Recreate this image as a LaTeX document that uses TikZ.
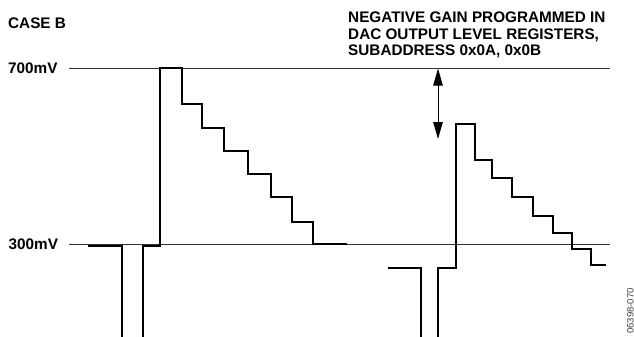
\documentclass[tikz,border=0pt]{standalone}
\usepackage{fontspec}
\setmainfont{Liberation Sans}
\usepackage{tikz}
\usetikzlibrary{arrows.meta}

\begin{document}
\begin{tikzpicture}[x=1pt,y=-1pt,
		lbl/.style={font=\bfseries\fontsize{15.3}{16.3}\selectfont,inner sep=0pt,anchor=base west},
		level/.style={line width=0.9pt,black!80},
		wave/.style={line width=2pt,line join=miter},
		gain/.style={line width=1pt,{Triangle[length=17pt,width=9.5pt]}-{Triangle[length=17pt,width=9.5pt]}}]
	\useasboundingbox (0,0) rectangle (634,337);
	
	% labels
	\node[lbl] (caseb) at (8,29) {CASE B};
	\node[lbl] (lab700) at (8,74) {700mV};
	\node[lbl] (lab300) at (8.5,249.5) {300mV};
	\node[lbl,align=left,anchor=north west] (note) at (348,12)
	{NEGATIVE GAIN PROGRAMMED IN\\DAC OUTPUT LEVEL REGISTERS,\\SUBADDRESS 0x0A, 0x0B};
	\node[font=\fontsize{9.5}{9.5}\selectfont,text=black!75,inner sep=0pt,
		rotate=90,anchor=base east] (figno) at (633.5,288) {06398-070};
	
	% levels
	\coordinate (l7a) at (69,68);
	\coordinate (l7b) at (610,68);
	\coordinate (l3a) at (69,244.5);
	\coordinate (l3b) at (610,244.5);
	\draw[level] (l7a) -- (l7b);
	\draw[level] (l3a) -- (l3b);
	
	% first waveform
	\draw[wave] (88,245.5) -- (122,245.5) -- (122,337);
	\draw[wave] (143,337) -- (143,245.5) -- (160,245.5) -- (160,68) -- (182,68)
	|- (202,104) |- (224,128) |- (248,151) |- (271,174) |- (292,197)
	|- (313,222) |- (347,244);
	
	% second waveform, negative gain
	\draw[wave] (388,268) -- (421,268) -- (421,337);
	\draw[wave] (438,337) -- (438,268) -- (456,268) -- (456,124) -- (475,124)
	|- (492,160) |- (512,178) |- (533,197) |- (553,216) |- (572,233)
	|- (591,249) |- (606,265);
	
	% gain arrow
	\coordinate (gtop) at (438,68.5);
	\coordinate (gbot) at (438,139);
	\draw[gain] (gtop) -- (gbot);
	
\end{tikzpicture}
\end{document}
